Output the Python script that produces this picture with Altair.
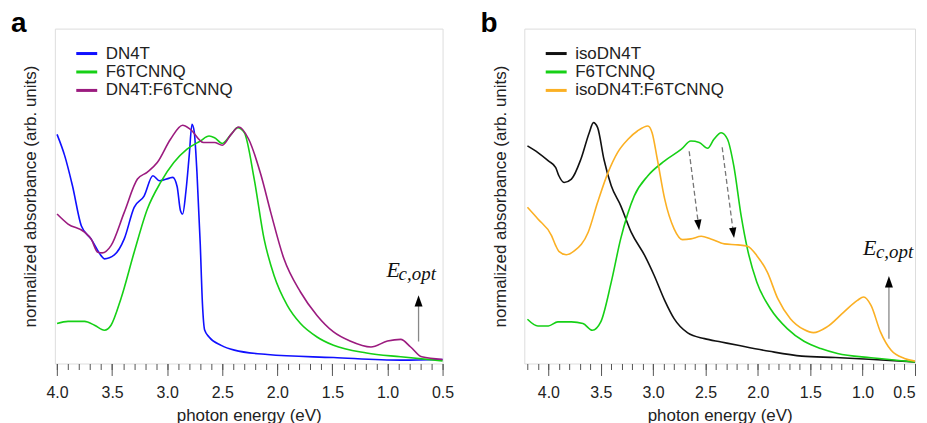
import altair as alt
import pandas as pd

# ---------------- Panel a data (photon energy eV, normalized absorbance) -------------
a_dn4t_E = [4.0, 3.93, 3.86, 3.78, 3.69, 3.60, 3.57, 3.48, 3.39, 3.30, 3.21, 3.13, 3.07,
            2.98, 2.95, 2.91, 2.88, 2.86, 2.83, 2.80, 2.775, 2.755, 2.73, 2.70, 2.68, 2.66,
            2.62, 2.51, 2.39, 2.09, 1.49, 0.88, 0.5]
a_dn4t_A = [0.958, 0.868, 0.743, 0.576, 0.52, 0.451, 0.4375, 0.454, 0.521, 0.653, 0.70, 0.785, 0.764,
            0.775, 0.778, 0.74, 0.64, 0.625, 0.72, 0.87, 1.0, 0.97, 0.80, 0.50, 0.25, 0.14,
            0.111, 0.076, 0.056, 0.0375, 0.025, 0.014, 0.017]

a_f6_E = [4.0, 3.90, 3.75, 3.66, 3.57, 3.51, 3.42, 3.30, 3.18, 3.06, 2.94, 2.82, 2.70, 2.62,
          2.57, 2.50, 2.42, 2.36, 2.30, 2.21, 2.12, 2.03, 1.91, 1.79, 1.64, 1.49, 1.19, 0.88, 0.5]
a_f6_A = [0.167, 0.176, 0.176, 0.16, 0.139, 0.16, 0.271, 0.465, 0.646, 0.757, 0.84, 0.896, 0.93, 0.951,
          0.944, 0.92, 0.958, 0.986, 0.965, 0.771, 0.52, 0.368, 0.243, 0.167, 0.111, 0.076, 0.044, 0.028, 0.011]

a_mix_E = [4.0, 3.90, 3.75, 3.69, 3.63, 3.59, 3.51, 3.39, 3.27, 3.18, 3.09, 2.97, 2.86, 2.79,
           2.67, 2.57, 2.50, 2.42, 2.35, 2.26, 2.15, 2.06, 1.94, 1.79, 1.64, 1.49, 1.34, 1.15,
           1.00, 0.88, 0.79, 0.69, 0.5]
a_mix_A = [0.625, 0.583, 0.549, 0.52, 0.465, 0.4625, 0.493, 0.632, 0.771, 0.80, 0.84, 0.9375, 0.996, 0.979,
           0.924, 0.924, 0.9125, 0.958, 0.989, 0.9375, 0.79, 0.632, 0.4375, 0.299, 0.201, 0.132, 0.094, 0.069,
           0.094, 0.101, 0.069, 0.028, 0.017]

# ---------------- Panel b data -------------
b_iso_E = [4.2, 4.10, 4.0, 3.93, 3.90, 3.85, 3.78, 3.69, 3.61, 3.57, 3.53, 3.47, 3.40, 3.31, 3.21,
           3.08, 2.99, 2.89, 2.80, 2.67, 2.51, 2.35, 2.19, 1.89, 1.58, 1.26, 0.94, 0.5]
b_iso_A = [0.91, 0.882, 0.847, 0.819, 0.785, 0.757, 0.771, 0.854, 0.965, 1.007, 0.986, 0.854, 0.743, 0.66, 0.549,
           0.451, 0.368, 0.264, 0.1875, 0.128, 0.104, 0.090, 0.076, 0.051, 0.031, 0.025, 0.018, 0.007]

b_f6_E = [4.2, 4.10, 4.0, 3.91, 3.78, 3.67, 3.58, 3.50, 3.40, 3.31, 3.18, 3.05, 2.89, 2.73, 2.64,
          2.56, 2.48, 2.42, 2.35, 2.29, 2.23, 2.16, 2.10, 2.01, 1.88, 1.72, 1.56, 1.40, 1.24, 0.92, 0.5]
b_f6_A = [0.185, 0.157, 0.157, 0.174, 0.174, 0.167, 0.139, 0.174, 0.34, 0.521, 0.701, 0.785, 0.847, 0.896, 0.93,
          0.924, 0.90, 0.9375, 0.965, 0.9375, 0.826, 0.618, 0.479, 0.34, 0.229, 0.146, 0.093, 0.0625, 0.042, 0.024, 0.007]

b_mix_E = [4.2, 4.10, 3.97, 3.93, 3.90, 3.83, 3.75, 3.62, 3.53, 3.43, 3.34, 3.24, 3.15, 3.05, 3.01,
           2.96, 2.89, 2.80, 2.72, 2.64, 2.54, 2.45, 2.32, 2.19, 2.10, 2.01, 1.91, 1.81, 1.69, 1.56,
           1.47, 1.34, 1.18, 1.05, 0.99, 0.92, 0.83, 0.73, 0.60, 0.5]
b_mix_A = [0.653, 0.604, 0.535, 0.493, 0.469, 0.455, 0.472, 0.549, 0.674, 0.799, 0.882, 0.9375, 0.972, 0.993, 0.965,
           0.854, 0.688, 0.563, 0.518, 0.521, 0.532, 0.521, 0.50, 0.496, 0.49, 0.451, 0.382, 0.271, 0.1875, 0.142,
           0.129, 0.153, 0.215, 0.264, 0.278, 0.243, 0.132, 0.056, 0.021, 0.010]

a_names = ["DN4T", "F6TCNNQ", "DN4T:F6TCNNQ"]
a_colors = ["#1010ff", "#16d016", "#9b1b7f"]
b_names = ["isoDN4T", "F6TCNNQ", "isoDN4T:F6TCNNQ"]
b_colors = ["#111111", "#16d016", "#fbb024"]

# annotations: E_c,opt arrow (x, head y, tail y), label anchors
a_arrow_E = [0.718]
a_arrow_head = [0.262]
a_arrow_tail = [0.092]
a_lbl_E = [1.008, 0.899]
a_lbl_A = [0.3625, 0.350]

b_arrow_E = [0.749]
b_arrow_head = [0.342]
b_arrow_tail = [0.104]
b_lbl_E = [0.997, 0.873]
b_lbl_A = [0.454, 0.442]

# dashed arrows in panel b: start (E, A), head centre (E, A), head angle
b_dash_E1 = [2.656, 2.341]
b_dash_A1 = [0.8875, 0.904]
b_dash_E2 = [2.567, 2.234]
b_dash_A2 = [0.579, 0.546]
b_dash_angle = [172.9, 172.6]

major_ticks = [4.0, 3.5, 3.0, 2.5, 2.0, 1.5, 1.0, 0.5]
minor_a = [round(4.0 - 0.1 * i, 1) for i in range(36)]
minor_b = [round(4.2 - 0.1 * i, 1) for i in range(38)]

FONT = "Liberation Sans"
HEAD = "M-0.7,1L0.7,1L0,-1Z"
LEG_SYMBOL = "M-1.5,0L1.5,0"
TXT = "#222222"


def long_df(pairs, names):
    rows = []
    for (E, A), n in zip(pairs, names):
        for e, a in zip(E, A):
            rows.append({"E": e, "A": a, "series": n})
    return pd.DataFrame(rows)


def panel(df, names, colors, xdom, minor, width, letter, flush,
          arr_E, arr_head, arr_tail, lbl_E, lbl_A, extra=None):
    xscale = alt.Scale(domain=xdom, reverse=True, nice=False, zero=False)
    yscale = alt.Scale(domain=[0, 1.4], nice=False, zero=True)
    xaxis = alt.Axis(values=major_ticks, tickSize=12, format=".1f", orient="bottom",
                     labelOverlap=False, labelFlush=flush, domain=False, grid=False,
                     tickColor="#555555", tickWidth=1, labelFontSize=16, labelColor=TXT,
                     labelPadding=9, title="photon energy (eV)", titleFontSize=17,
                     titleFontWeight="normal", titlePadding=7, titleColor=TXT)
    minor_axis = alt.Axis(values=minor, tickSize=6, labels=False, title=None, orient="bottom",
                          domain=False, grid=False, tickColor="#555555", tickWidth=1)
    yaxis = alt.Axis(labels=False, ticks=False, domain=False, grid=False,
                     title="normalized absorbance (arb. units)", titleFontSize=17,
                     titleFontWeight="normal", titlePadding=15, titleColor=TXT)
    lines = alt.Chart(df).mark_line(strokeWidth=1.6, interpolate="monotone").encode(
        x=alt.X("E:Q", scale=xscale, axis=xaxis),
        y=alt.Y("A:Q", scale=yscale, axis=yaxis),
        color=alt.Color("series:N", scale=alt.Scale(domain=names, range=colors),
                        legend=alt.Legend(title=None, orient="none", legendX=23.5, legendY=16.5,
                                          symbolType=LEG_SYMBOL, symbolSize=196,
                                          symbolStrokeWidth=3, labelFontSize=17,
                                          labelFont=FONT, labelOffset=10.5, rowPadding=0.5,
                                          labelColor=TXT, padding=0)),
    )
    adf = pd.DataFrame({"E": arr_E, "head": arr_head, "tail": arr_tail})
    shaft = alt.Chart(adf).mark_rule(color="#888888", strokeWidth=1.3).encode(
        x=alt.X("E:Q", scale=xscale), y=alt.Y("tail:Q", scale=yscale), y2="head:Q")
    head = alt.Chart(adf).mark_point(shape=HEAD, filled=True, color="black", opacity=1,
                                     size=130).encode(
        x=alt.X("E:Q", scale=xscale), y=alt.Y("head:Q", scale=yscale))
    ldf = pd.DataFrame({"E": lbl_E, "A": lbl_A, "t": ["E", "c,opt"]})
    lbl_big = alt.Chart(ldf.iloc[[0]]).mark_text(align="left", baseline="alphabetic",
                                                 font="Liberation Serif", fontStyle="italic",
                                                 fontSize=22, color="#111111").encode(
        x=alt.X("E:Q", scale=xscale), y=alt.Y("A:Q", scale=yscale), text="t:N")
    lbl_sub = alt.Chart(ldf.iloc[[1]]).mark_text(align="left", baseline="alphabetic",
                                                 font="Liberation Serif", fontStyle="italic",
                                                 fontSize=19, color="#111111").encode(
        x=alt.X("E:Q", scale=xscale), y=alt.Y("A:Q", scale=yscale), text="t:N")
    layers = [lines, shaft, head, lbl_big, lbl_sub]
    if extra is not None:
        layers += extra
    main = alt.layer(*layers)
    mdf = pd.DataFrame({"t": minor})
    minor_layer = alt.Chart(mdf).mark_point(opacity=0).encode(
        x=alt.X("t:Q", scale=xscale, axis=minor_axis),
        y=alt.value(0))
    return alt.layer(main, minor_layer).resolve_axis(x="independent").properties(
        width=width, height=336,
        title=alt.TitleParams(letter, anchor="start", frame="group", dx=-44, dy=34, offset=0,
                              baseline="alphabetic", fontSize=28, fontWeight="bold", font=FONT,
                              color="black"))


df_a = long_df([(a_dn4t_E, a_dn4t_A), (a_f6_E, a_f6_A), (a_mix_E, a_mix_A)], a_names)
df_b = long_df([(b_iso_E, b_iso_A), (b_f6_E, b_f6_A), (b_mix_E, b_mix_A)], b_names)

ddf = pd.DataFrame({"E1": b_dash_E1, "A1": b_dash_A1, "E2": b_dash_E2, "A2": b_dash_A2,
                    "ang": b_dash_angle})
dash_shaft = alt.Chart(ddf).mark_rule(color="#777777", strokeWidth=1.3, strokeDash=[5, 3]).encode(
    x="E1:Q", y="A1:Q", x2="E2:Q", y2="A2:Q")
dash_head = alt.Chart(ddf).mark_point(shape=HEAD, filled=True, color="black", opacity=1,
                                      size=110).encode(
    x="E2:Q", y="A2:Q", angle=alt.Angle("ang:Q", scale=None))

pa = panel(df_a, a_names, a_colors, [0.5, 4.02], minor_a, 389, "a", False,
           a_arrow_E, a_arrow_head, a_arrow_tail, a_lbl_E, a_lbl_A)
pb = panel(df_b, b_names, b_colors, [0.5, 4.23], minor_b, 392, "b", True,
           b_arrow_E, b_arrow_head, b_arrow_tail, b_lbl_E, b_lbl_A,
           extra=[dash_shaft, dash_head])

chart = alt.hconcat(pa, pb, spacing=25).resolve_scale(color="independent").properties(
    padding={"left": 2, "top": 0, "right": 0, "bottom": 0},
    background="white",
).configure_view(stroke="#8a8a8a", strokeWidth=1.5).configure(
    font=FONT
).configure_axis(labelFont=FONT, titleFont=FONT
).configure_axisBottom(labelFontSize=16, titleFontSize=17, titleFontWeight="normal"
).configure_axisLeft(titleFontSize=17, titleFontWeight="normal")

chart.save("out.html", embed_options={"renderer": "svg", "actions": False})
